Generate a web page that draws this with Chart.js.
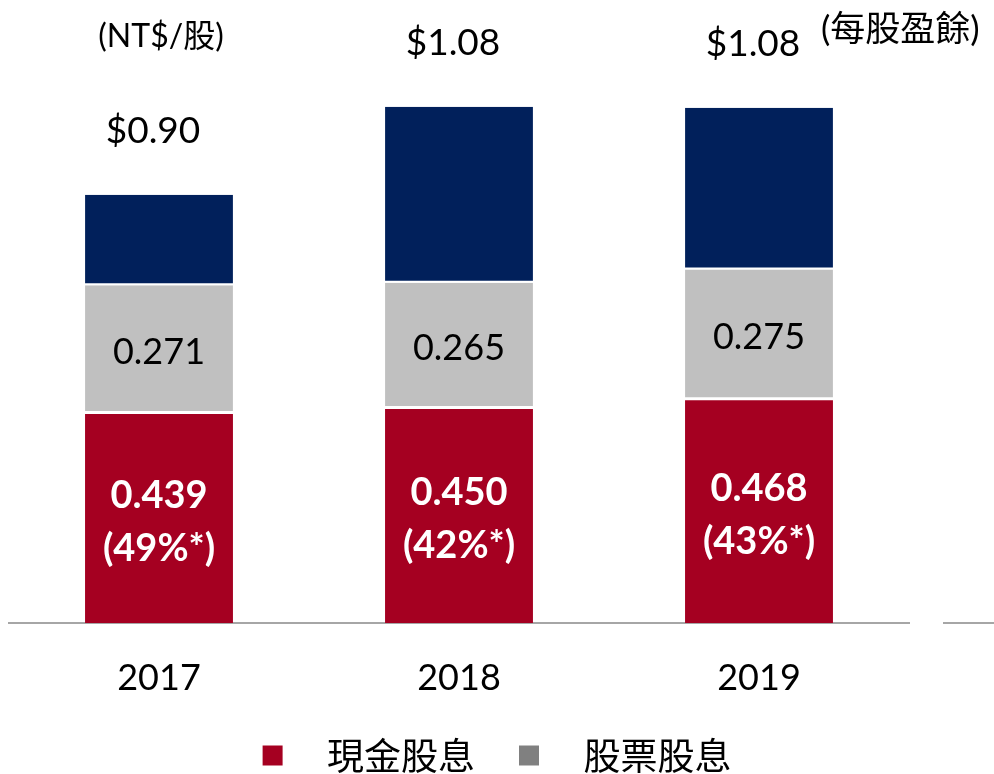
<!DOCTYPE html>
<html>
<head>
<meta charset="utf-8">
<script src="https://cdn.jsdelivr.net/npm/chart.js@4/dist/chart.umd.min.js"></script>
<style>
  html, body { margin: 0; padding: 0; background: #fff; overflow: hidden; }
  #wrap { width: 994px; height: 784px; }
</style>
</head>
<body>
<div id="wrap"><canvas id="chart"></canvas></div>
<script>
// data
const years = ['2017', '2018', '2019'];
const cashDiv = [0.439, 0.450, 0.468];
const cashPct = ['(49%*)', '(42%*)', '(43%*)'];
const stockDiv = [0.271, 0.265, 0.275];
const restEps = [0.190, 0.370, 0.340];
const epsLabels = ['$0.90', '$1.08', '$1.08'];
const seriesNames = ['現金股息', '股票股息', '每股盈餘'];

const RED = '#A50021';
const GRAY = '#C0C0C0';
const NAVY = '#01205B';
const legendColors = [RED, '#808080'];

Chart.defaults.font.family = "Lato, 'Noto Sans CJK TC'";
Chart.defaults.color = '#000';

const labelPlugin = {
  id: 'barLabels',
  afterDatasetsDraw(chart) {
    const ctx = chart.ctx;
    const red = chart.getDatasetMeta(0).data;
    const gray = chart.getDatasetMeta(1).data;
    const navy = chart.getDatasetMeta(2).data;
    ctx.save();
    ctx.textAlign = 'center';
    ctx.textBaseline = 'middle';

    red.forEach((bar, i) => {
      const mid = (bar.y + bar.base) / 2 + 3;
      ctx.fillStyle = '#fff';
      ctx.font = "bold 38px Lato";
      ctx.fillText(cashDiv[i].toFixed(3), bar.x, mid - 26);
      ctx.fillText(cashPct[i], bar.x, mid + 27);
    });

    gray.forEach((bar, i) => {
      ctx.fillStyle = '#000';
      ctx.font = "36px Lato";
      ctx.fillText(stockDiv[i].toFixed(3), bar.x, (bar.y + bar.base) / 2 + 3);
    });

    ctx.font = "37px Lato";
    navy.forEach((bar, i) => {
      ctx.fillStyle = '#000';
      ctx.fillText(epsLabels[i], bar.x - 6, bar.y - 64);
    });

    // unit notes
    ctx.font = "32px Lato, 'Noto Sans CJK TC'";
    ctx.fillText('(NT$/股)', red[0].x + 2, chart.chartArea.top - 15);
    const last = navy[navy.length - 1];
    ctx.textAlign = 'left';
    ctx.font = "35px Lato, 'Noto Sans CJK TC'";
    ctx.fillText('(' + seriesNames[2] + ')', last.x + 62, chart.chartArea.top - 22);

    // short stray baseline piece at the right edge
    const a = chart.chartArea;
    ctx.strokeStyle = '#A6A6A6';
    ctx.lineWidth = 2;
    ctx.beginPath();
    ctx.moveTo(a.right + 34, a.bottom);
    ctx.lineTo(chart.width, a.bottom);
    ctx.stroke();
    ctx.restore();
  }
};

// empty side axes only reserve room so the legend stays centred on the page
const spacer = (w, pos) => ({
  position: pos,
  display: true,
  ticks: { display: false },
  grid: { display: false, drawTicks: false },
  border: { display: false },
  afterFit(scale) { scale.width = w; }
});

new Chart(document.getElementById('chart'), {
  type: 'bar',
  data: {
    labels: years,
    datasets: [
      { label: seriesNames[0], data: cashDiv, backgroundColor: RED,
        borderWidth: 0 },
      { label: seriesNames[1], data: stockDiv, backgroundColor: GRAY,
        borderColor: '#fff', borderWidth: { top: 0, left: 0, right: 0, bottom: 3 }, borderSkipped: false },
      { label: seriesNames[2], data: restEps, backgroundColor: NAVY,
        borderColor: '#fff', borderWidth: { top: 0, left: 0, right: 0, bottom: 2 }, borderSkipped: false }
    ]
  },
  options: {
    responsive: true,
    maintainAspectRatio: false,
    animation: false,
    layout: { padding: { top: 52, left: 0, right: 0, bottom: 0 } },
    datasets: { bar: { categoryPercentage: 1, barPercentage: 0.493 } },
    scales: {
      x: {
        stacked: true,
        grid: { display: false, drawTicks: false },
        border: { display: true, color: '#A6A6A6', width: 2 },
        ticks: { padding: 34, font: { size: 36 }, color: '#000' },
        afterFit(scale) { scale.height = 70; }
      },
      y: Object.assign(spacer(9, 'left'), { stacked: true, min: 0, max: 1.2 }),
      yRight: Object.assign(spacer(85, 'right'), { min: 0, max: 1.2 })
    },
    plugins: {
      tooltip: { enabled: false },
      legend: {
        position: 'bottom',
        labels: {
          boxWidth: 20,
          boxHeight: 20,
          padding: 44,
          color: '#000',
          font: { size: 37, family: "'Noto Sans CJK TC'" },
          generateLabels(chart) {
            return Chart.defaults.plugins.legend.labels.generateLabels(chart)
              .filter(l => l.datasetIndex < 2)
              .map(l => Object.assign(l, {
                text: '\u2002\u2009' + l.text,
                fillStyle: legendColors[l.datasetIndex],
                strokeStyle: legendColors[l.datasetIndex],
                lineWidth: 0
              }));
          }
        }
      }
    }
  },
  plugins: [labelPlugin]
});
</script>
</body>
</html>
